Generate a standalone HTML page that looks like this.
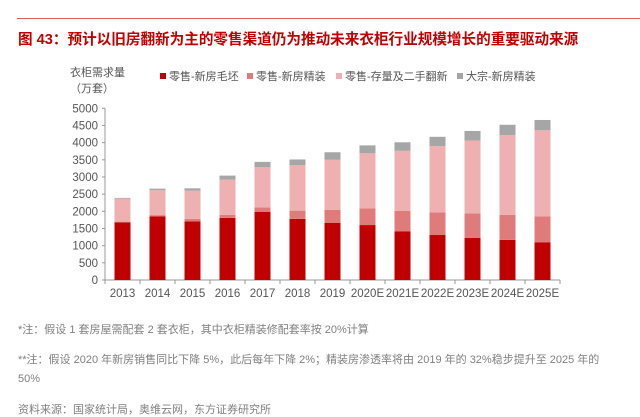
<!DOCTYPE html>
<html><head><meta charset="utf-8"><style>
body{margin:0;width:640px;height:409px;overflow:hidden;background:#fff;font-family:"Liberation Sans","Noto Sans CJK SC",sans-serif;}
.abs{position:absolute;white-space:nowrap}
.note{font-size:11px;color:#808080}
</style></head><body>
<div class="abs" style="left:17px;top:18px;width:623px;height:1px;background:#e06060"></div>
<div class="abs" style="left:18px;top:28px;font-size:14.6px;font-weight:bold;color:#c00000">图 43：预计以旧房翻新为主的零售渠道仍为推动未来衣柜行业规模增长的重要驱动来源</div>
<svg class="abs" style="left:0;top:0" width="640" height="409" id="chart">
<text x="70" y="76" font-size="11" fill="#555">衣柜需求量</text>
<text x="70" y="92" font-size="11" fill="#555">（万套）</text>
<g id="legend"></g><g id="axes"></g><g id="bars"></g>
</svg>
<div class="abs note" style="left:18px;top:321px">*注：假设 1 套房屋需配套 2 套衣柜，其中衣柜精装修配套率按 20%计算</div>
<div class="abs note" style="left:18px;top:351px">**注：假设 2020 年新房销售同比下降 5%，此后每年下降 2%；精装房渗透率将由 2019 年的 32%稳步提升至 2025 年的</div>
<div class="abs note" style="left:18px;top:373px">50%</div>
<div class="abs note" style="left:18px;top:401px">资料来源：国家统计局，奥维云网，东方证券研究所</div>
<script>
const categories=["2013","2014","2015","2016","2017","2018","2019","2020E","2021E","2022E","2023E","2024E","2025E"];
const retailNewRough=[1680,1850,1710,1810,1980,1780,1660,1600,1420,1310,1230,1170,1100];
const retailNewFinished=[20,40,70,90,130,240,380,490,590,660,710,730,750];
const retailRenovation=[670,730,820,1020,1180,1320,1460,1600,1750,1930,2120,2320,2510];
const bulkNewFinished=[20,40,70,120,150,170,220,230,250,270,280,300,300];
const yTicks=[0,500,1000,1500,2000,2500,3000,3500,4000,4500,5000];
const seriesNames=["零售-新房毛坯","零售-新房精装","零售-存量及二手翻新","大宗-新房精装"];
const colors=["#c00000","#e07b7b","#eeb0b0","#a6a6a6"];
const NS="http://www.w3.org/2000/svg";
const X0=105,X1=560,Y0=280,Y1=108.3,YMAX=5000;
const band=(X1-X0)/categories.length,bw=16;
const y=v=>Y0-(v/YMAX)*(Y0-Y1);
const xc=i=>X0+band*(i+0.5);
function mk(t,a,p){const e=document.createElementNS(NS,t);for(const k in a)e.setAttribute(k,a[k]);p.appendChild(e);return e;}
const axes=document.getElementById('axes'),bars=document.getElementById('bars'),leg=document.getElementById('legend');
let ax=mk('line',{x1:X0,y1:y(0),x2:X0,y2:y(5000),stroke:'#999'},axes);


let bx=mk('line',{x1:X0,y1:Y0,x2:X1,y2:Y0,stroke:'#999'},axes);


yTicks.forEach(t=>{
 let tl=mk('text',{x:98,y:y(t)+4,'text-anchor':'end','font-size':11.5,fill:'#555'},axes);tl.textContent=t;
 
 
 mk('line',{x1:X0-3,y1:y(t),x2:X0,y2:y(t),stroke:'#999'},axes);
});
categories.forEach((c,i)=>{
 mk('line',{x1:X0+band*i,y1:Y0,x2:X0+band*i,y2:Y0+4,stroke:'#999'},axes);
 let tl=mk('text',{x:xc(i),y:297,'text-anchor':'middle','font-size':11.5,fill:'#555'},axes);tl.textContent=c;
 
 
});
mk('line',{x1:X1,y1:Y0,x2:X1,y2:Y0+4,stroke:'#999'},axes);
const series=[retailNewRough,retailNewFinished,retailRenovation,bulkNewFinished];
categories.forEach((c,i)=>{
 let acc=0;
 series.forEach((s,k)=>{
  const v=s[i];
  let r=mk('rect',{x:xc(i)-bw/2,y:y(acc+v),width:bw,height:y(acc)-y(acc+v),fill:colors[k]},bars);
  
  
  acc+=v;
 });
});
const lx=[160,247,336,457];
seriesNames.forEach((n,k)=>{
 mk('rect',{x:lx[k],y:73,width:6,height:6,fill:colors[k]},leg);
 let t=mk('text',{x:lx[k]+9,y:80,'font-size':11,fill:'#555'},leg);t.textContent=n;
 
 
});
</script>
</body></html>
